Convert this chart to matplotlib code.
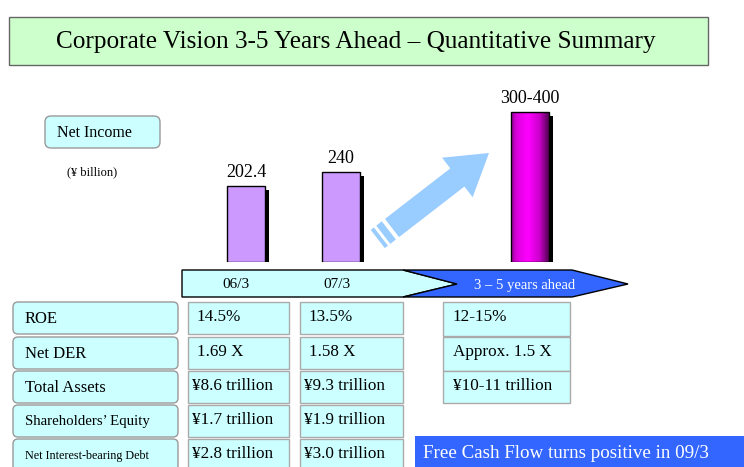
import numpy as np
import matplotlib
matplotlib.use("Agg")
import matplotlib.pyplot as plt
from matplotlib.patches import Rectangle, FancyBboxPatch, Polygon, FancyArrow
from matplotlib.colors import LinearSegmentedColormap

# data
periods = ["06/3", "07/3", "3 – 5 years ahead"]
net_income = [202.4, 240, 400]
net_income_labels = ["202.4", "240", "300-400"]
row_names = ["ROE", "Net DER", "Total Assets", "Shareholders’ Equity", "Net Interest-bearing Debt"]
col_063 = ["14.5%", "1.69 X", "¥8.6 trillion", "¥1.7 trillion", "¥2.8 trillion"]
col_073 = ["13.5%", "1.58 X", "¥9.3 trillion", "¥1.9 trillion", "¥3.0 trillion"]
col_ahead = ["12-15%", "Approx. 1.5 X", "¥10-11 trillion"]

W, H = 744, 467
SERIF = "Liberation Serif"
CYAN = "#ccffff"
BLUE = "#3366ff"

fig = plt.figure(figsize=(W / 100, H / 100), dpi=100)
ax = fig.add_axes([0, 0, 1, 1])
ax.set_xlim(0, W)
ax.set_ylim(H, 0)
ax.axis("off")

# title box
ax.add_patch(Rectangle((9, 17), 699, 48, facecolor="#ccffcc", edgecolor="#666666", lw=1))
ax.text(356, 42, "Corporate Vision 3-5 Years Ahead – Quantitative Summary",
        fontsize=18.2, family=SERIF, ha="center", va="center")

# net income label
ax.add_patch(FancyBboxPatch((45, 116), 115, 32, boxstyle="round,pad=0,rounding_size=6",
                            facecolor=CYAN, edgecolor="#999999", lw=1))
ax.text(57, 133, "Net Income", fontsize=11.5, family=SERIF, va="center")
ax.text(67, 172, "(¥ billion)", fontsize=9, family=SERIF, va="center")

# bars in their own axes, bottom at y=262px
base_y = 262
k = 2.665  # value per pixel
bax = fig.add_axes([0, (H - base_y) / H, 1, base_y / H])
bax.set_xlim(0, W)
bax.set_ylim(0, base_y * k)
bax.axis("off")
bar_x = [246, 341, 530]
bar_w = 38
for i in range(3):
    v = net_income[i]
    # shadow
    bax.bar(bar_x[i] + 4, v - 3 * k, width=bar_w, bottom=-1 * k, color="black", zorder=1)
    if i < 2:
        bax.bar(bar_x[i], v, width=bar_w, color="#cc99ff", edgecolor="black", lw=1, zorder=2)
    else:
        cmap = LinearSegmentedColormap.from_list(
            "mag", [(0, "#990099"), (0.15, "#dd00dd"), (0.45, "#ff00ff"), (0.75, "#cc00cc"), (1, "#550055")])
        grad = np.linspace(0, 1, 100).reshape(1, -1)
        im = bax.imshow(grad, extent=[bar_x[i] - bar_w / 2, bar_x[i] + bar_w / 2, 0, v],
                        cmap=cmap, aspect="auto", zorder=2)
        b = bax.bar(bar_x[i], v, width=bar_w, facecolor="none", edgecolor="black", lw=1, zorder=3)
        im.set_clip_path(b[0])
    bax.text(bar_x[i], v + 5 * k, net_income_labels[i], fontsize=13, family=SERIF,
             ha="center", va="bottom")
bax.set_xlim(0, W)
bax.set_ylim(0, base_y * k)

# growth arrow
x0, y0, x1, y1 = 392, 228, 489, 153
dx, dy = x1 - x0, y1 - y0
L = np.hypot(dx, dy)
ux, uy = dx / L, dy / L
px, py = -uy, ux
hw = 11.5
ax.add_patch(FancyArrow(x0, y0, dx, dy, width=2 * hw, head_width=50, head_length=40,
                        length_includes_head=True, color="#99ccff", lw=0))
for s0, s1 in [(-11, -4), (-18, -14)]:
    pts = [(x0 + ux * s0 + px * hw, y0 + uy * s0 + py * hw),
           (x0 + ux * s1 + px * hw, y0 + uy * s1 + py * hw),
           (x0 + ux * s1 - px * hw, y0 + uy * s1 - py * hw),
           (x0 + ux * s0 - px * hw, y0 + uy * s0 - py * hw)]
    ax.add_patch(Polygon(pts, closed=True, color="#99ccff", lw=0))

# timeline band
ax.add_patch(Polygon([(182, 270), (403, 270), (457, 284), (403, 297), (182, 297)],
                     closed=True, facecolor=CYAN, edgecolor="black", lw=1))
ax.add_patch(Polygon([(403, 270), (572, 270), (628, 284), (572, 297), (403, 297), (457, 284)],
                     closed=True, facecolor=BLUE, edgecolor="black", lw=1))
ax.text(236, 285, periods[0], fontsize=11, family=SERIF, ha="center", va="center")
ax.text(337, 285, periods[1], fontsize=11, family=SERIF, ha="center", va="center")
ax.text(525, 285, periods[2], fontsize=10.5, family=SERIF, ha="center", va="center", color="white")

# table
row_top = [302, 337, 371, 405, 439]
row_h = 32
name_sizes = [12, 12, 12, 10.7, 8.7]
for r in range(5):
    yt = row_top[r]
    ax.add_patch(FancyBboxPatch((13, yt), 165, row_h, boxstyle="round,pad=0,rounding_size=5",
                                facecolor=CYAN, edgecolor="#999999", lw=1))
    ax.text(25, yt + row_h / 2 + 1, row_names[r], fontsize=name_sizes[r], family=SERIF, va="center")
    for (xl, xr, col, tx) in [(188, 289, col_063, 192), (300, 403, col_073, 304)]:
        ax.add_patch(Rectangle((xl, yt), xr - xl, row_h, facecolor=CYAN, edgecolor="#aaaaaa", lw=1))
        off = 5 if r < 2 else 0
        ax.text(tx + off, yt + row_h / 2 - 1, col[r], fontsize=12.3, family=SERIF, va="center")
    if r < 3:
        ax.add_patch(Rectangle((443, yt), 127, row_h + (2 if r < 2 else 0),
                               facecolor=CYAN, edgecolor="#aaaaaa", lw=1))
        ax.text(453, yt + row_h / 2 - 1, col_ahead[r], fontsize=12.3, family=SERIF, va="center")

# free cash flow box
ax.add_patch(Rectangle((415, 436), 340, 40, facecolor=BLUE, edgecolor="none"))
ax.text(423, 453, "Free Cash Flow turns positive in 09/3", fontsize=13.7, family=SERIF,
        color="white", va="center")

fig.savefig("out.png", dpi=100)
